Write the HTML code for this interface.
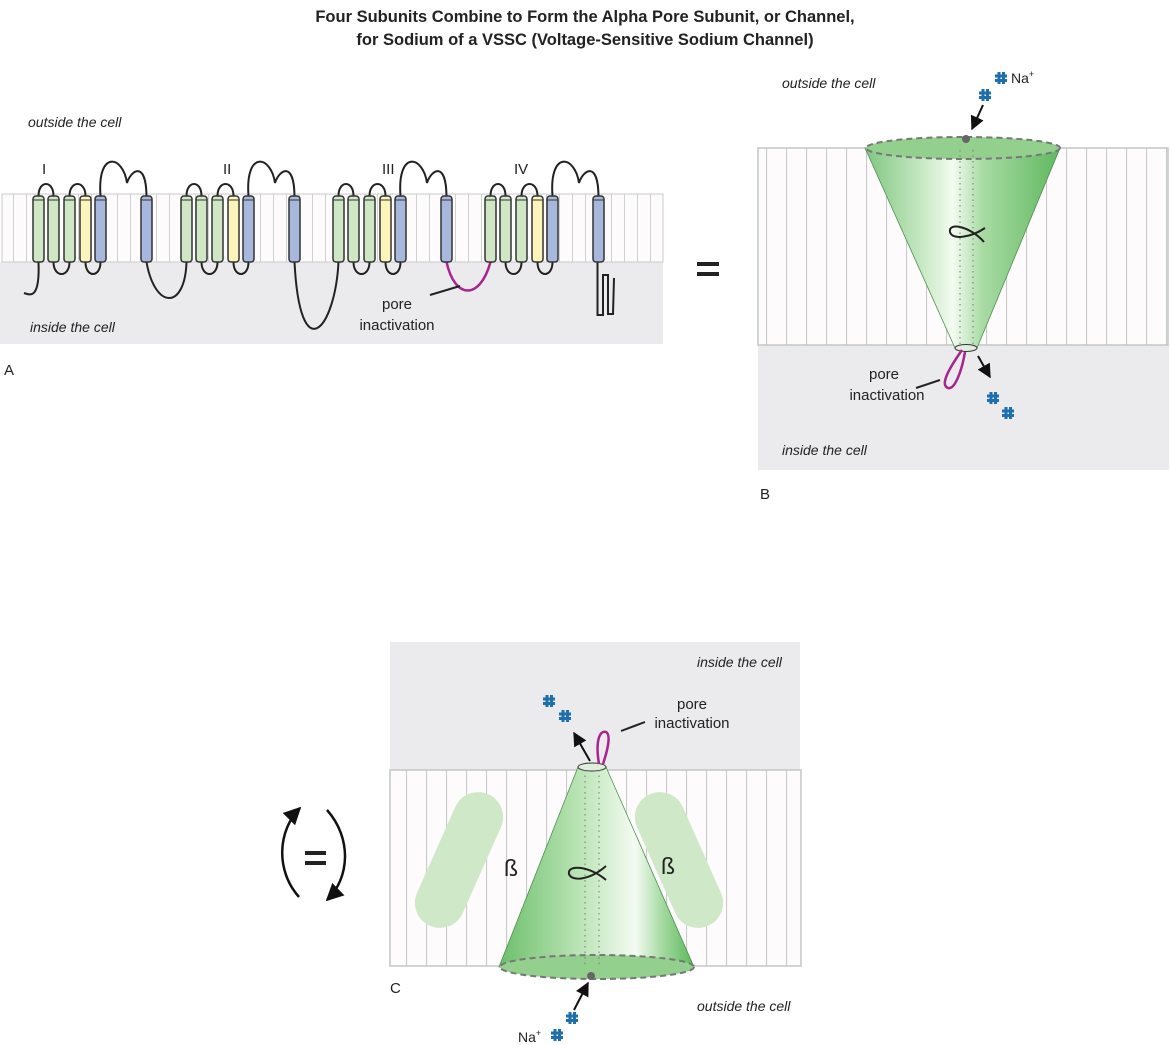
<!DOCTYPE html>
<html><head><meta charset="utf-8"><style>
html,body{margin:0;padding:0;background:#fff}
svg{display:block}
text{font-family:"Liberation Sans",Arial,sans-serif;fill:#222}
.it{font-style:italic;font-size:14px}
.lb{font-size:15px}
</style></head><body>
<svg width="1171" height="1045" viewBox="0 0 1171 1045" xmlns="http://www.w3.org/2000/svg">
<defs>
<pattern id="stA" width="13" height="10" patternUnits="userSpaceOnUse"><rect width="13" height="10" fill="#fdfbfb"/><line x1="0.5" y1="0" x2="0.5" y2="10" stroke="#cfd3d0" stroke-width="1"/></pattern>
<pattern id="stB" width="20" height="10" patternUnits="userSpaceOnUse" x="6"><rect width="20" height="10" fill="#fdfbfb"/><line x1="0.5" y1="0" x2="0.5" y2="10" stroke="#c8ccc9" stroke-width="1.2"/></pattern>
<linearGradient id="cone" x1="0" y1="0" x2="1" y2="0">
<stop offset="0" stop-color="#7fc67f"/><stop offset="0.35" stop-color="#d6efd2"/><stop offset="0.45" stop-color="#f4fbf2"/><stop offset="0.6" stop-color="#a9dba4"/><stop offset="1" stop-color="#5fb860"/></linearGradient>
<linearGradient id="coneC" x1="0" y1="0" x2="1" y2="0">
<stop offset="0" stop-color="#6cbf6c"/><stop offset="0.4" stop-color="#b8e3b3"/><stop offset="0.7" stop-color="#f4fbf2"/><stop offset="0.85" stop-color="#9ed79a"/><stop offset="1" stop-color="#5cb85d"/></linearGradient>
<g id="hg"><rect x="0" y="196" width="11" height="66" rx="3" fill="#cfe7c4" stroke="#333" stroke-width="1.5"/><line x1="0.5" y1="200" x2="10.5" y2="200" stroke="#333"/></g>
<g id="hy"><rect x="0" y="196" width="11" height="66" rx="3" fill="#fbf5bb" stroke="#333" stroke-width="1.5"/><line x1="0.5" y1="200" x2="10.5" y2="200" stroke="#333"/></g>
<g id="hb"><rect x="0" y="196" width="11" height="66" rx="3" fill="#a8b8dc" stroke="#333" stroke-width="1.5"/><line x1="0.5" y1="200" x2="10.5" y2="200" stroke="#333"/></g>
<g id="grp">
<path d="M5.5 196 C5.5 180 20.5 180 20.5 196 M20.5 262 C20.5 278 36.5 278 36.5 262 M36.5 196 C36.5 180 52.5 180 52.5 196 M52.5 262 C52.5 278 67.5 278 67.5 262 M67.5 196 C64 150 90 155 94 183 C98 170 113 160 113.5 196" fill="none" stroke="#222" stroke-width="2"/>
<use href="#hg" x="0"/><use href="#hg" x="15"/><use href="#hg" x="31"/><use href="#hy" x="47"/><use href="#hb" x="62"/><use href="#hb" x="108"/>
</g>
<g id="hash" fill="#1d6fae"><rect x="-6" y="-3.5" width="12" height="3"/><rect x="-6" y="1" width="12" height="3"/><rect x="-3.5" y="-6" width="3" height="12"/><rect x="1" y="-6" width="3" height="12"/></g>
<marker id="ar" viewBox="0 0 10 10" refX="9" refY="5" markerWidth="7" markerHeight="7" orient="auto"><path d="M0 0 L10 5 L0 10 z" fill="#111"/></marker>
</defs>

<text x="585" y="22" text-anchor="middle" font-weight="bold" font-size="16.5">Four Subunits Combine to Form the Alpha Pore Subunit, or Channel,</text>
<text x="585" y="45" text-anchor="middle" font-weight="bold" font-size="16.5">for Sodium of a VSSC (Voltage-Sensitive Sodium Channel)</text>

<!-- Panel A -->
<rect x="0" y="262" width="663" height="82" fill="#ebeaec"/>
<rect x="2" y="194" width="661" height="68" fill="url(#stA)" stroke="#c9cdca"/>
<text class="it" x="28" y="127">outside the cell</text>
<text class="it" x="30" y="332">inside the cell</text>
<text x="4" y="375" font-size="15">A</text>
<text x="42" y="174" font-size="15">I</text>
<text x="223" y="174" font-size="15">II</text>
<text x="382" y="174" font-size="15">III</text>
<text x="514" y="174" font-size="15">IV</text>
<path d="M38.5 262 C40 300 30 295 24 293" fill="none" stroke="#222" stroke-width="2"/>
<path d="M146.5 262 C155 310 185 310 186.5 262" fill="none" stroke="#222" stroke-width="2"/>
<path d="M294.5 262 C300 370 335 330 338.5 262" fill="none" stroke="#222" stroke-width="2"/>
<path d="M446.5 262 C455 300 480 300 490.5 262" fill="none" stroke="#a8248e" stroke-width="2.5"/>
<path d="M597.5 262 L597.5 315 L603 315 L603 275 L608 275 L608 314 L613 314 L614 278" fill="none" stroke="#222" stroke-width="2"/>
<use href="#grp" x="33"/><use href="#grp" x="181"/><use href="#grp" x="333"/><use href="#grp" x="485"/>
<line x1="430" y1="295" x2="460" y2="286" stroke="#222" stroke-width="2"/>
<text class="lb" x="397" y="309" text-anchor="middle">pore</text>
<text class="lb" x="397" y="330" text-anchor="middle">inactivation</text>

<!-- = -->
<rect x="697" y="262" width="22" height="4" fill="#222"/><rect x="697" y="272" width="22" height="4" fill="#222"/>

<!-- Panel B -->
<rect x="758" y="345" width="411" height="125" fill="#ebeaec"/>
<rect x="758" y="148" width="410" height="197" fill="url(#stB)" stroke="#c3c7c4" stroke-width="1.5"/>
<text class="it" x="782" y="88">outside the cell</text>
<text class="it" x="782" y="455">inside the cell</text>
<text x="760" y="499" font-size="15">B</text>
<path d="M865 148 L955 348 L977 348 L1060 148 Z" fill="url(#cone)" stroke="#4f8f4f" stroke-width="0.8"/>
<ellipse cx="963" cy="148" rx="97" ry="11" fill="#93d08e" stroke="#777" stroke-width="2" stroke-dasharray="6,4"/>
<ellipse cx="966" cy="348" rx="11" ry="3.5" fill="#dfeedd" stroke="#333"/>
<line x1="960" y1="150" x2="960" y2="346" stroke="#777" stroke-dasharray="1.5,4"/>
<line x1="973" y1="150" x2="973" y2="346" stroke="#777" stroke-dasharray="1.5,4"/>
<circle cx="966" cy="139" r="4" fill="#666"/>
<path d="M985 228 C970 238 952 240 950 232 C948 222 970 226 984 242" fill="none" stroke="#222" stroke-width="2"/>
<path d="M962 350 C948 370 940 385 948 388 C955 390 962 370 965 352" fill="none" stroke="#a8248e" stroke-width="2.5"/>
<line x1="916" y1="388" x2="940" y2="380" stroke="#222" stroke-width="2"/>
<text class="lb" x="884" y="379" text-anchor="middle">pore</text>
<text class="lb" x="887" y="400" text-anchor="middle">inactivation</text>
<line x1="983" y1="105" x2="972" y2="129" stroke="#111" stroke-width="2" marker-end="url(#ar)"/>
<use href="#hash" x="985" y="95"/><use href="#hash" x="1001" y="78"/>
<text x="1011" y="83" font-size="14">Na<tspan font-size="9" dy="-6">+</tspan></text>
<line x1="978" y1="356" x2="990" y2="377" stroke="#111" stroke-width="2" marker-end="url(#ar)"/>
<use href="#hash" x="993" y="398"/><use href="#hash" x="1008" y="413"/>

<!-- rotation arrows -->
<path d="M299 897 C275 870 278 830 300 808" fill="none" stroke="#111" stroke-width="2.5" marker-end="url(#ar)"/>
<path d="M327 810 C352 838 350 878 327 900" fill="none" stroke="#111" stroke-width="2.5" marker-end="url(#ar)"/>
<rect x="305" y="851" width="21" height="4" fill="#222"/><rect x="305" y="861" width="21" height="4" fill="#222"/>

<!-- Panel C -->
<rect x="390" y="642" width="410" height="128" fill="#ebeaec"/>
<rect x="390" y="770" width="411" height="196" fill="url(#stB)" stroke="#c3c7c4" stroke-width="1.5"/>
<text class="it" x="697" y="667">inside the cell</text>
<text class="it" x="697" y="1011">outside the cell</text>
<text x="390" y="993" font-size="15">C</text>
<rect x="434" y="788" width="50" height="144" rx="25" fill="#cfe9c8" transform="rotate(24 459 860)"/>
<rect x="654" y="788" width="50" height="144" rx="25" fill="#cfe9c8" transform="rotate(-24 679 860)"/>
<path d="M578 767 L499 967 L694 967 L606 767 Z" fill="url(#coneC)" stroke="#4f8f4f" stroke-width="0.8"/>
<ellipse cx="592" cy="767" rx="14" ry="4" fill="#dfeedd" stroke="#333"/>
<ellipse cx="597" cy="967" rx="97" ry="12" fill="#93d08e" stroke="#777" stroke-width="2" stroke-dasharray="6,4"/>
<line x1="585" y1="770" x2="585" y2="965" stroke="#777" stroke-dasharray="1.5,4"/>
<line x1="599" y1="770" x2="599" y2="965" stroke="#777" stroke-dasharray="1.5,4"/>
<circle cx="591" cy="976" r="4" fill="#666"/>
<path d="M606 866 C590 880 572 882 569 874 C567 864 590 866 606 880" fill="none" stroke="#222" stroke-width="2"/>
<text x="504" y="876" font-size="23">ß</text>
<text x="661" y="874" font-size="23">ß</text>
<path d="M599 764 C595 740 600 730 606 732 C612 735 606 755 603 764" fill="none" stroke="#a8248e" stroke-width="2.5"/>
<line x1="621" y1="731" x2="645" y2="722" stroke="#222" stroke-width="2"/>
<text class="lb" x="692" y="709" text-anchor="middle" font-size="14">pore</text>
<text class="lb" x="692" y="728" text-anchor="middle" font-size="14">inactivation</text>
<line x1="590" y1="761" x2="574" y2="733" stroke="#111" stroke-width="2" marker-end="url(#ar)"/>
<use href="#hash" x="549" y="701"/><use href="#hash" x="565" y="716"/>
<line x1="574" y1="1010" x2="588" y2="983" stroke="#111" stroke-width="2" marker-end="url(#ar)"/>
<use href="#hash" x="572" y="1018"/><use href="#hash" x="557" y="1035"/>
<text x="518" y="1042" font-size="14">Na<tspan font-size="9" dy="-6">+</tspan></text>
</svg>
</body></html>
